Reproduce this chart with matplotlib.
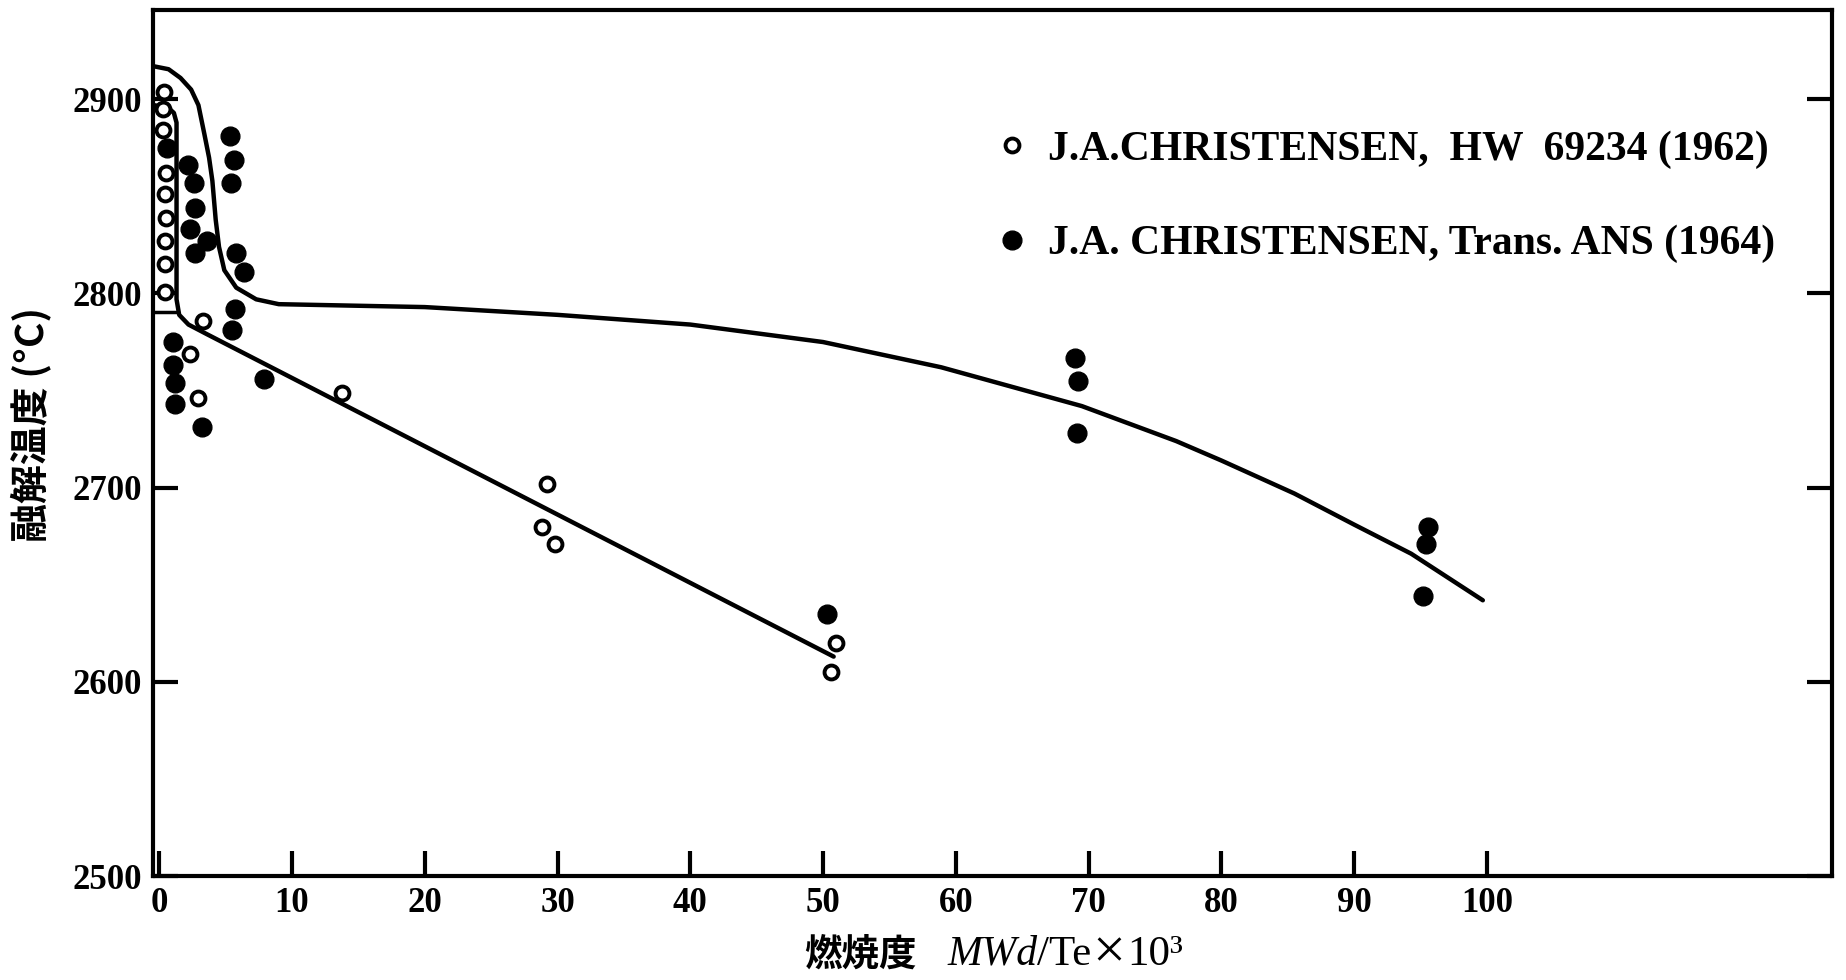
import matplotlib
matplotlib.use("Agg")
import matplotlib.pyplot as plt

plt.rcParams['font.family'] = ['Liberation Serif', 'Noto Sans CJK JP', 'DejaVu Sans']

# burnup (MWd/Te x 10^3) vs melting temperature (deg C)
# J.A. Christensen, HW 69234 (1962) -- open circles
open_x = [0.35, 0.3, 0.3, 0.5, 0.4, 0.5, 0.4, 0.4, 0.4,
          3.3, 2.3, 2.9, 13.8, 29.2, 28.8, 29.8, 51.0, 50.6]
open_y = [2904, 2895, 2884, 2862, 2851, 2839, 2827, 2815, 2801,
          2786, 2769, 2746, 2749, 2702, 2680, 2671, 2620, 2605]

# J.A. Christensen, Trans. ANS (1964) -- filled circles
fill_x = [0.55, 2.2, 2.6, 2.7, 2.3, 3.6, 2.7, 5.3, 5.6, 5.4, 5.8, 6.4, 5.7, 5.5,
          1.0, 1.0, 1.2, 1.2, 3.2, 7.9, 50.3, 69.0, 69.2, 69.1, 95.6, 95.4, 95.2]
fill_y = [2875, 2866, 2857, 2844, 2833, 2827, 2821, 2881, 2869, 2857, 2821, 2811, 2792, 2781,
          2775, 2763, 2754, 2743, 2731, 2756, 2635, 2767, 2755, 2728, 2680, 2671, 2644]

# hand drawn curves
upper_x = [-0.4, 0.7, 1.6, 2.4, 2.95, 3.4, 3.75, 4.0, 4.25, 4.5, 4.9, 5.8, 7.3, 9.0,
           20, 30, 40, 50, 58.9, 69.5, 76.6, 80, 85.5, 90, 94.3, 99.7]
upper_y = [2917, 2915.5, 2911, 2905, 2897, 2882, 2870, 2858, 2838, 2824, 2812, 2803, 2797, 2794.5,
           2793, 2789, 2784, 2775, 2762, 2742, 2724, 2714, 2697, 2681, 2666, 2642]

lower_x = [-0.4, 0.7, 1.1, 1.3, 1.3, 1.5, 2.2, 3.6, 50.8]
lower_y = [2897, 2895.5, 2893, 2888, 2797, 2789, 2784, 2779, 2613]

box_x = [-0.4, 1.3]
box_y = [2790.5, 2790.5]

labels = ['J.A.CHRISTENSEN,  HW  69234 (1962)',
          'J.A. CHRISTENSEN, Trans. ANS (1964)']

fig = plt.figure(figsize=(18.46, 9.8), dpi=100)
ax = fig.add_axes([0.0829, 0.1061, 0.9095, 0.8837])

ax.plot(upper_x, upper_y, color='black', lw=3.2, solid_capstyle='round',
        solid_joinstyle='round', zorder=2)
ax.plot(lower_x, lower_y, color='black', lw=3.2, solid_capstyle='round',
        solid_joinstyle='round', zorder=2)
ax.plot(box_x, box_y, color='black', lw=2.5, zorder=2)

h1, = ax.plot(open_x, open_y, 'o', ms=10, mfc='white', mec='black', mew=2.8, zorder=3)
h2, = ax.plot(fill_x, fill_y, 'o', ms=13.5, mfc='black', mec='black', zorder=3)

ax.set_xlim(-0.47, 126)
ax.set_ylim(2500, 2946)
ax.set_xticks(range(0, 101, 10))
ax.set_yticks(range(2500, 2901, 100))

for s in ax.spines.values():
    s.set_linewidth(3)

ax.tick_params(axis='both', direction='in', length=18, width=3, pad=8, color='black')
ax.tick_params(axis='y', right=True, labelsize=25)
ax.tick_params(axis='x', labelsize=25)
for t in ax.get_xticklabels() + ax.get_yticklabels():
    t.set_fontweight('bold')

ax.legend([h1, h2], labels, loc='upper left', bbox_to_anchor=(0.503, 0.861),
          frameon=False, borderpad=0, borderaxespad=0, handlelength=0.7,
          handletextpad=0.52, labelspacing=1.34,
          prop={'family': 'Liberation Serif', 'weight': 'bold', 'size': 30})

# axis titles
fig.text(0.0165, 0.567, '融解温度 (°C)', rotation=90, ha='center', va='center',
         fontsize=28, fontweight='bold', family=['Noto Sans CJK JP', 'DejaVu Sans'])

t1 = fig.text(0.4355, 0.026, '燃焼度', ha='left', va='center',
              fontsize=27, fontweight='bold', family=['Noto Sans CJK JP'])
t2 = ax.annotate('MWd', xy=(1, 0.5), xycoords=t1, xytext=(22, 0), textcoords='offset points',
                 ha='left', va='center', fontsize=30, style='italic')
t3 = ax.annotate('/Te', xy=(1, 0.5), xycoords=t2, xytext=(0, 0), textcoords='offset points',
                 ha='left', va='center', fontsize=31)
t4 = ax.annotate('×', xy=(1, 0.5), xycoords=t3, xytext=(1, 0), textcoords='offset points',
                 ha='left', va='center', fontsize=42)
ax.annotate('10³', xy=(1, 0.5), xycoords=t4, xytext=(1, 0), textcoords='offset points',
            ha='left', va='center', fontsize=31)

fig.savefig('out.png', dpi=100)
